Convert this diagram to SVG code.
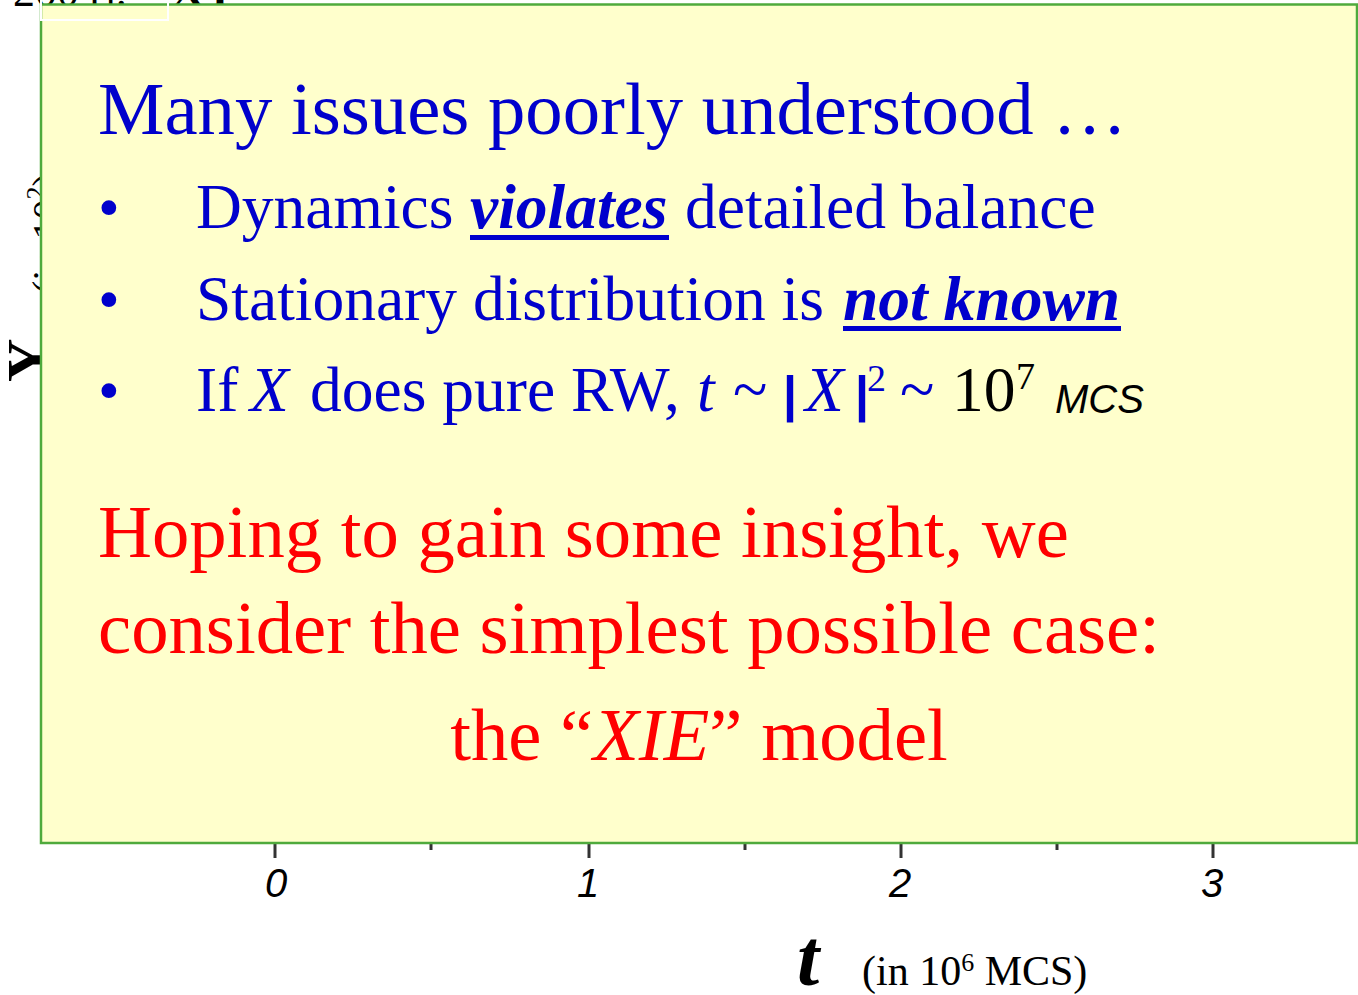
<svg xmlns="http://www.w3.org/2000/svg" width="1358" height="995" viewBox="0 0 1358 995">
<style>
.serif{font-family:"Liberation Serif","Times New Roman",serif}
.sans{font-family:"Liberation Sans",Arial,sans-serif}
.blue{fill:#0000CC}
.red{fill:#FF0000}
.blk{fill:#000}
.bi{font-weight:bold;font-style:italic}
.it{font-style:italic}
.bar{font-family:"Liberation Sans",Arial,sans-serif;font-weight:bold;font-style:normal}
.tick{stroke:#333;stroke-width:3}
.ticklbl{font-family:"Liberation Sans",Arial,sans-serif;font-style:italic;font-size:40px;fill:#000;text-anchor:middle}
</style>
<rect x="0" y="0" width="1358" height="995" fill="#FFFFFF"/>
<g id="background-plot">
  <text class="serif blk" x="13" y="6" font-size="44">2004].</text>
  <text class="serif blk" font-weight="bold" x="172" y="6" font-size="44">XY</text>
  <text class="serif blk" font-weight="bold" font-size="60" transform="translate(48,382) rotate(-90)">Y</text>
  <text class="serif blk" font-size="40" transform="translate(60,294) rotate(-90)">(in 10<tspan font-size="26" dy="-16">2</tspan><tspan dy="16">)</tspan></text>
</g>
<g id="axis-ticks">
  <line class="tick" x1="275" y1="843" x2="275" y2="858"/>
  <line class="tick" x1="431" y1="843" x2="431" y2="850"/>
  <line class="tick" x1="589" y1="843" x2="589" y2="858"/>
  <line class="tick" x1="745" y1="843" x2="745" y2="850"/>
  <line class="tick" x1="901" y1="843" x2="901" y2="858"/>
  <line class="tick" x1="1057" y1="843" x2="1057" y2="850"/>
  <line class="tick" x1="1213" y1="843" x2="1213" y2="858"/>
  <text class="ticklbl" x="276" y="897">0</text>
  <text class="ticklbl" x="588" y="897">1</text>
  <text class="ticklbl" x="900" y="897">2</text>
  <text class="ticklbl" x="1212" y="897">3</text>
</g>
<g id="x-axis-label">
  <text class="serif blk bi" x="797" y="985" font-size="80">t</text>
  <text class="serif blk" x="862" y="985" font-size="42">(in 10<tspan font-size="26" dy="-14">6</tspan><tspan dy="14"> MCS)</tspan></text>
</g>
<g id="callout-box">
  <rect x="41" y="4.5" width="1316" height="838.5" fill="#FFFFCC" stroke="#4FAA3C" stroke-width="2.5"/>
  <rect x="41" y="-2" width="127" height="22" fill="none" stroke="#FFFFFF" stroke-width="2"/>
</g>
<g id="issues-text">
  <text class="serif blue" x="98" y="134" font-size="74.7">Many issues poorly understood …</text>
  <text class="serif blue" x="98" y="228" font-size="62">•</text>
  <text class="serif blue" font-size="63.5" y="228"><tspan x="196">Dynamics</tspan><tspan x="470" class="bi">violates</tspan><tspan x="685">detailed balance</tspan></text>
  <rect class="blue" x="470" y="235" width="199" height="5"/>
  <text class="serif blue" x="98" y="320" font-size="62">•</text>
  <text class="serif blue" font-size="63.5" y="320"><tspan x="196">Stationary distribution is</tspan><tspan x="843" class="bi">not known</tspan></text>
  <rect class="blue" x="843" y="326" width="278" height="5"/>
  <text class="serif blue" x="98" y="411" font-size="62">•</text>
  <text class="serif blue" font-size="63.5" y="411"><tspan x="196">If</tspan><tspan x="250" class="it">X</tspan><tspan x="310">does pure RW,</tspan><tspan x="697" class="it">t</tspan><tspan x="733">~</tspan><tspan x="783" class="bar" font-size="50">|</tspan><tspan x="805" class="it">X</tspan><tspan x="855" class="bar" font-size="50">|</tspan><tspan x="867" font-size="38" dy="-20">2</tspan><tspan x="900" dy="20">~</tspan><tspan x="952" class="blk">10</tspan><tspan x="1016" class="blk" font-size="38" dy="-22">7</tspan></text>
  <text class="sans blk it" x="1055" y="413" font-size="40">MCS</text>
</g>
<g id="hope-text">
  <text class="serif red" x="98" y="557" font-size="74.7">Hoping to gain some insight, we</text>
  <text class="serif red" x="98" y="653" font-size="74.7">consider the simplest possible case:</text>
  <text class="serif red" x="699" y="760" font-size="74.7" text-anchor="middle">the “<tspan class="it">XIE</tspan>” model</text>
</g>
</svg>
